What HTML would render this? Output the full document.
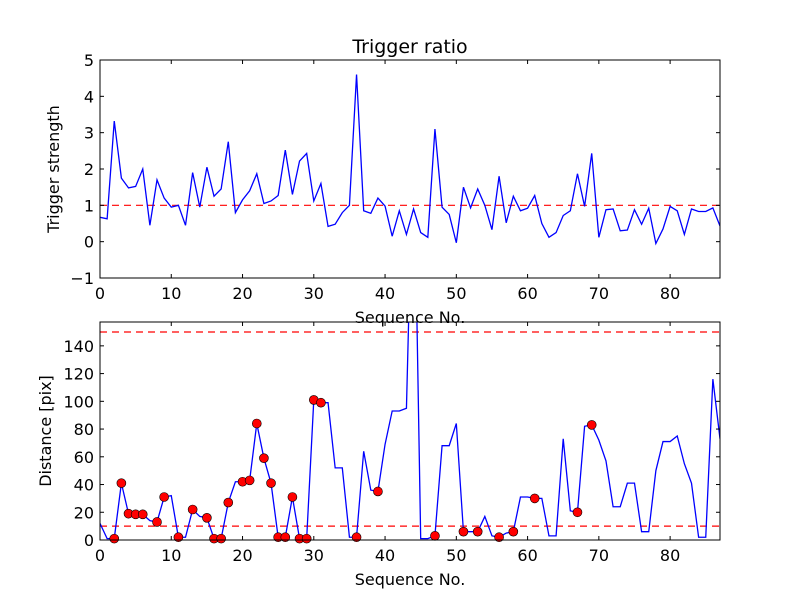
<!DOCTYPE html>
<html><head><meta charset="utf-8"><style>
body{margin:0;background:#fff;}
svg text{font-family:"DejaVu Sans","Liberation Sans",sans-serif;fill:#000;}
</style></head><body>
<svg id="chart" width="800" height="600" xmlns="http://www.w3.org/2000/svg">
<rect width="800" height="600" fill="#fff"/>
</svg>
<script>
const topValues=[0.67,0.63,3.32,1.75,1.48,1.52,2.0,0.45,1.7,1.2,0.95,1.0,0.45,1.9,0.95,2.05,1.25,1.45,2.75,0.8,1.15,1.4,1.87,1.05,1.12,1.27,2.52,1.3,2.22,2.43,1.12,1.6,0.42,0.48,0.8,1.0,4.6,0.85,0.78,1.2,0.98,0.15,0.85,0.2,0.9,0.25,0.12,3.1,0.95,0.75,-0.03,1.5,0.93,1.45,1.0,0.33,1.8,0.52,1.25,0.85,0.92,1.27,0.5,0.12,0.25,0.72,0.85,1.87,0.97,2.43,0.12,0.88,0.9,0.3,0.32,0.88,0.48,0.92,-0.05,0.35,0.97,0.85,0.2,0.9,0.83,0.83,0.93,0.43];
const bottomValues=[12,1,1,41,19,18.5,18.5,14,13,31,32,2,2,22,17,16,1,1,27,42,42,43,84,59,41,2,2,31,1,1,101,99,99,52,52,2,2,64,36,35,69,93,93,95,300,1,1,3,68,68,84,6,6,6,17,3,2,5,6,31,31,30,30,3,3,73,21,20,82,83,72,57,24,24,41,41,6,6,50,71,71,75,55,41,2,2,116,73];
const dotIndices=[2,3,4,5,6,8,9,11,13,15,16,17,18,20,21,22,23,24,25,26,27,28,29,30,31,36,39,47,51,53,56,58,61,67,69];
const xTicks=[0,10,20,30,40,50,60,70,80];
const topYTicks=[-1,0,1,2,3,4,5];
const bottomYTicks=[0,20,40,60,80,100,120,140];
const topThreshold=[1];
const bottomThresholds=[10,150];

const NS="http://www.w3.org/2000/svg";
const svg=document.getElementById('chart');
function el(tag,attrs,parent){const e=document.createElementNS(NS,tag);for(const k in attrs)e.setAttribute(k,attrs[k]);(parent||svg).appendChild(e);return e;}
const L=100,R=720,XMAX=87;
function xs(v){return L+(R-L)*v/XMAX;}

function panel(name,top,bottom,ymin,ymax,yticks,values,thresholds,ylabel,ylx,dots){
  const ys=v=>bottom-(bottom-top)*(v-ymin)/(ymax-ymin);
  const g=el('g',{});
  
  
  const cid='clip-'+name;
  const cp=el('clipPath',{id:cid},g);el('rect',{x:L,y:top,width:R-L,height:bottom-top},cp);
  thresholds.forEach(t=>{
    const ln=el('line',{x1:L,x2:R,y1:ys(t),y2:ys(t),stroke:'#ff0000','stroke-width':1.2,'stroke-dasharray':'7,5','clip-path':`url(#${cid})`},g);
    
    
  });
  const pts=values.map((v,i)=>xs(i).toFixed(2)+','+ys(v).toFixed(2)).join(' ');
  const pl=el('polyline',{points:pts,fill:'none',stroke:'#0000ff','stroke-width':1.3,'clip-path':`url(#${cid})`},g);
  
  
  if(dots){dots.forEach(i=>{
    const c=el('circle',{cx:xs(i),cy:ys(values[i]),r:4.5,fill:'#ff0000',stroke:'#000','stroke-width':0.6},g);
    
    
  });}
  el('rect',{x:L,y:top,width:R-L,height:bottom-top,fill:'none',stroke:'#000','stroke-width':1},g);
  xTicks.forEach(t=>{
    const x=xs(t);
    el('line',{x1:x,x2:x,y1:bottom,y2:bottom-4,stroke:'#000'},g);
    el('line',{x1:x,x2:x,y1:top,y2:top+4,stroke:'#000'},g);
    const tx=el('text',{x:x,y:bottom+21,'font-size':16,'text-anchor':'middle'},g);tx.textContent=t;
    
    
  });
  yticks.forEach(t=>{
    const y=ys(t);
    el('line',{x1:L,x2:L+4,y1:y,y2:y,stroke:'#000'},g);
    el('line',{x1:R,x2:R-4,y1:y,y2:y,stroke:'#000'},g);
    const tx=el('text',{x:L-6,y:y+6,'font-size':16,'text-anchor':'end'},g);tx.textContent=(t<0?'\u2212'+(-t):t);
    
    
  });
  const xl=el('text',{x:(L+R)/2,y:bottom+45,'font-size':16,'text-anchor':'middle'},g);xl.textContent='Sequence No.';
  
  
  const cy=(top+bottom)/2;
  const yl=el('text',{x:ylx,y:cy,'font-size':16,'text-anchor':'middle',transform:`rotate(-90 ${ylx} ${cy})`},g);yl.textContent=ylabel;
  
  
}
const title=el('text',{x:410,y:53,'font-size':19,'text-anchor':'middle'});title.textContent='Trigger ratio';


panel('trigger-strength-panel',60,278,-1,5,topYTicks,topValues,topThreshold,'Trigger strength',59,null);
panel('distance-panel',322,540,0,157.2,bottomYTicks,bottomValues,bottomThresholds,'Distance [pix]',51,dotIndices);
</script>
</body></html>
